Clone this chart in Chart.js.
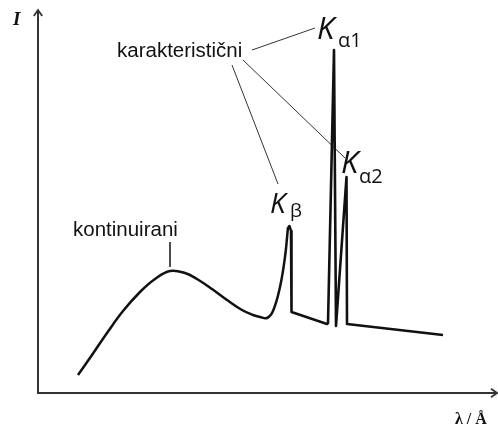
<!DOCTYPE html>
<html>
<head>
<meta charset="utf-8">
<script src="https://cdn.jsdelivr.net/npm/chart.js@4.4.1/dist/chart.umd.min.js"></script>
<style>
  html, body { margin: 0; padding: 0; background: #fff; }
  #wrap { width: 498px; height: 427px; }
</style>
</head>
<body>
<div id="wrap"><canvas id="spectrum" width="498" height="427"></canvas></div>
<script>
// schematic X-ray spectrum, arbitrary units
const continuumX = [40, 54, 69, 85, 102, 117, 132, 147, 159, 174, 189, 204, 215, 222, 229, 235, 242, 247, 250];
const continuumY = [18, 38, 60, 82, 101, 114, 122, 120, 114, 104, 93, 83, 78, 76, 75, 82, 106, 136, 166];

const linesX = [250, 251.5, 253, 253.5, 289, 290, 296, 298, 308.5, 309, 405];
const linesY = [166, 167, 162, 81, 69, 70, 343, 67, 216, 69, 58];

// pointer lines from the labels to the peaks
const pointers = [
    [[214, 343], [277, 365]],
    [[194, 328], [240, 209]],
    [[205, 333], [307, 235]],
    [[132, 151], [132, 126]]
];

const axisTitles = ['I', 'λ / Å'];
const peakNames = ['K', 'α1', 'α2', 'β'];
const groupNames = ['karakteristični', 'kontinuirani'];

const toPoints = (xs, ys) => xs.map((x, i) => ({ x: x, y: ys[i] }));

const datasets = [
    {
        data: toPoints(continuumX, continuumY),
        borderColor: '#111',
        borderWidth: 2.5,
        pointRadius: 0,
        tension: 0.4,
        fill: false
    },
    {
        data: toPoints(linesX, linesY),
        borderColor: '#111',
        borderWidth: 2.6,
        pointRadius: 0,
        tension: 0,
        borderJoinStyle: 'round',
        fill: false
    }
];

pointers.forEach(seg => {
    datasets.push({
        data: seg.map(p => ({ x: p[0], y: p[1] })),
        borderColor: '#333',
        borderWidth: 1,
        pointRadius: 0,
        tension: 0,
        fill: false
    });
});

function arrowHead(ctx, x, y, dir) {
    const s = 6;
    ctx.beginPath();
    if (dir === 'up') {
        ctx.moveTo(x - s * 0.7, y + s);
        ctx.lineTo(x, y);
        ctx.lineTo(x + s * 0.7, y + s);
    } else {
        ctx.moveTo(x - s, y - s * 0.7);
        ctx.lineTo(x, y);
        ctx.lineTo(x - s, y + s * 0.7);
    }
    ctx.stroke();
}

const decorations = {
    id: 'decorations',
    beforeDatasetsDraw(chart) {
        const { ctx, chartArea: a } = chart;
        ctx.save();
        ctx.strokeStyle = '#333';
        ctx.lineWidth = 2;
        ctx.beginPath();
        ctx.moveTo(a.left, a.top + 1);
        ctx.lineTo(a.left, a.bottom);
        ctx.lineTo(a.right - 1, a.bottom);
        ctx.stroke();
        ctx.lineWidth = 1.8;
        arrowHead(ctx, a.left, a.top, 'up');
        arrowHead(ctx, a.right, a.bottom, 'right');
        ctx.restore();
    },
    afterDatasetsDraw(chart) {
        const { ctx } = chart;
        const px = v => chart.scales.x.getPixelForValue(v);
        const py = v => chart.scales.y.getPixelForValue(v);
        ctx.save();
        ctx.fillStyle = '#111';
        ctx.textBaseline = 'alphabetic';
        ctx.textAlign = 'left';

        ctx.font = 'italic bold 19px "Liberation Serif"';
        ctx.fillText(axisTitles[0], px(-25), py(368));
        ctx.font = 'bold 16px "Liberation Serif"';
        ctx.fillText(axisTitles[1], px(417), py(-31));

        ctx.font = '20.5px "Liberation Sans"';
        ctx.fillText(groupNames[0], px(79), py(336));
        ctx.fillText(groupNames[1], px(35), py(157));

        ctx.font = 'italic 31px "Open Sans"';
        ctx.fillText(peakNames[0], px(279), py(354));
        ctx.fillText(peakNames[0], px(303), py(220));
        ctx.font = 'italic 28px "Open Sans"';
        ctx.fillText(peakNames[0], px(232), py(180));

        ctx.font = '20px "Open Sans"';
        ctx.fillText(peakNames[1], px(300), py(346));
        ctx.fillText(peakNames[2], px(321), py(210));
        ctx.font = '19px "Open Sans"';
        ctx.fillText(peakNames[3], px(252), py(176));
        ctx.restore();
    }
};

new Chart(document.getElementById('spectrum'), {
    type: 'line',
    data: { datasets: datasets },
    options: {
        responsive: false,
        animation: false,
        layout: { padding: { left: 38, top: 10, right: 1, bottom: 34 } },
        scales: {
            x: { type: 'linear', min: 0, max: 459, display: false },
            y: { type: 'linear', min: 0, max: 383, display: false }
        },
        plugins: {
            legend: { display: false },
            tooltip: { enabled: false }
        }
    },
    plugins: [decorations]
});
</script>
</body>
</html>
